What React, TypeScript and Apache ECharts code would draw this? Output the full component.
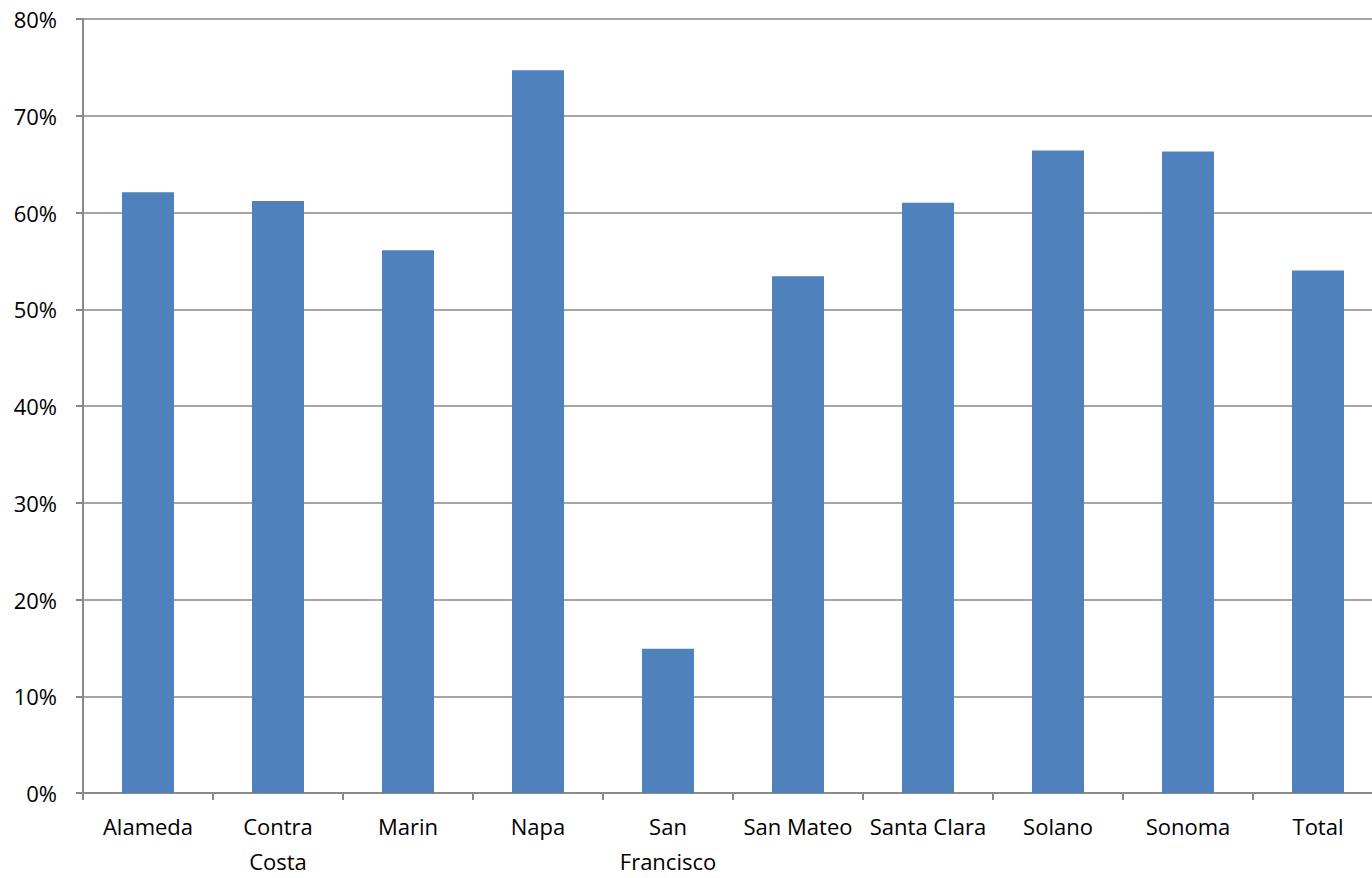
import React, { useEffect, useRef } from "react";
import * as echarts from "echarts";

const categories = ["Alameda", "Contra\nCosta", "Marin", "Napa", "San\nFrancisco", "San Mateo", "Santa Clara", "Solano", "Sonoma", "Total"];
const values = [62.1, 61.2, 56.1, 74.7, 14.9, 53.4, 61.0, 66.4, 66.3, 54.0];
const yTicks = [0, 10, 20, 30, 40, 50, 60, 70, 80];

export default function App() {
  const ref = useRef<HTMLDivElement>(null);
  useEffect(() => {
    document.body.style.margin = "0";
    document.body.style.overflow = "hidden";
    const chart = echarts.init(ref.current!, null, { renderer: "svg" });
    const font = "'Open Sans', 'Noto Sans', sans-serif";
    chart.setOption({
      animation: false,
      grid: { left: 83, right: 0, top: 19, bottom: 77, containLabel: false },
      xAxis: {
        type: "category",
        data: categories,
        axisLine: { lineStyle: { color: "#898989", width: 2 } },
        axisTick: { show: true, length: 7, lineStyle: { color: "#898989", width: 2 } },
        axisLabel: { color: "#000", fontSize: 22, fontFamily: font, margin: 15, lineHeight: 35, interval: 0 },
      },
      yAxis: {
        type: "value",
        min: yTicks[0],
        max: yTicks[yTicks.length - 1],
        interval: 10,
        axisLine: { show: true, lineStyle: { color: "#898989", width: 2 } },
        axisTick: { show: true, length: 7, lineStyle: { color: "#898989", width: 2 } },
        splitLine: { lineStyle: { color: "#898989", width: 1.5 } },
        axisLabel: { color: "#000", fontSize: 22, fontFamily: font, margin: 26, formatter: "{value}%" },
      },
      series: [
        {
          type: "bar",
          data: values,
          barWidth: "40%",
          itemStyle: { color: "#4F81BD" },
        },
      ],
    });
    return () => chart.dispose();
  }, []);
  return <div ref={ref} style={{ width: 1383, height: 878 }} />;
}
